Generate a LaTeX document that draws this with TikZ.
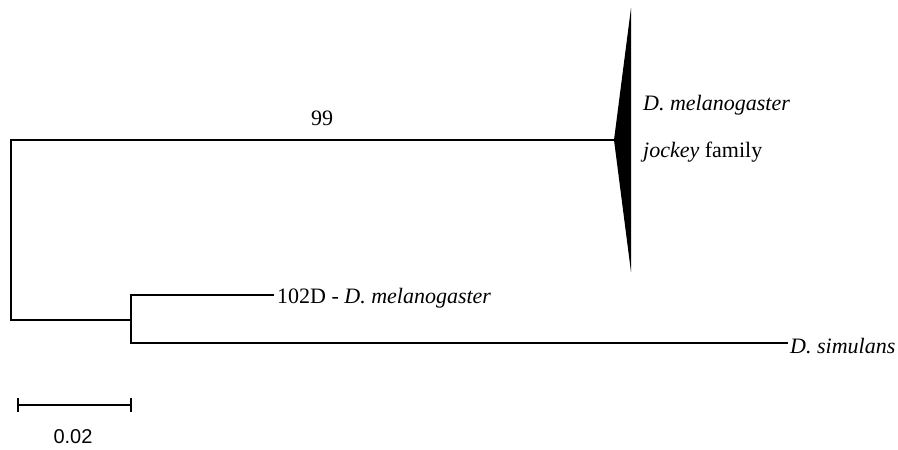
\documentclass[tikz,border=0pt]{standalone}
\usepackage{fontspec}
\setmainfont{Liberation Serif}
\setsansfont{Liberation Sans}
\begin{document}
\begin{tikzpicture}[x=1pt,y=-1pt,
  branch/.style={line width=1.5pt,line cap=rect},
  taxon/.style={font=\fontsize{22}{24}\selectfont,anchor=west,inner sep=0pt},
  support/.style={font=\fontsize{22}{24}\selectfont,inner sep=0pt}]
\useasboundingbox (0,0) rectangle (898,450);
% internal nodes and tips
\coordinate (root) at (11,230);
\coordinate (rootTop) at (11,140);
\coordinate (rootBot) at (11,320);
\coordinate (apex) at (614,140);
\coordinate (sub) at (131,320);
\coordinate (subTop) at (131,295);
\coordinate (subBot) at (131,343);
\coordinate (tipA) at (273,295);
\coordinate (tipB) at (787,343);
% collapsed clade
\fill (apex) -- (631,8) -- (631,272) -- cycle;
\node[taxon] (cladeA) at (643,105) {\itshape D. melanogaster};
\node[taxon] (cladeB) at (643,152) {\textit{jockey} family};
% branches
\draw[branch] (rootTop) -- (rootBot);
\draw[branch] (rootTop) -- (apex);
\draw[branch] (rootBot) -- (sub);
\draw[branch] (subTop) -- (subBot);
\draw[branch] (subTop) -- (tipA);
\draw[branch] (subBot) -- (tipB);
\node[support] (boot) at (322,118) {99};
\node[taxon] (labA) at (277,298) {102D - \textit{D. melanogaster}};
\node[taxon] (labB) at (790,346) {\textit{D. simulans}};
% scale bar
\coordinate (sbL) at (18,405);
\coordinate (sbR) at (131,405);
\draw[line width=1.5pt] (sbL) -- (sbR);
\draw[line width=1.5pt] (18,398) -- (18,412);
\draw[line width=1.5pt] (131,398) -- (131,412);
\node[font=\sffamily\fontsize{20}{22}\selectfont,inner sep=0pt] (sbLab) at (73,437) {0.02};
\end{tikzpicture}
\end{document}
